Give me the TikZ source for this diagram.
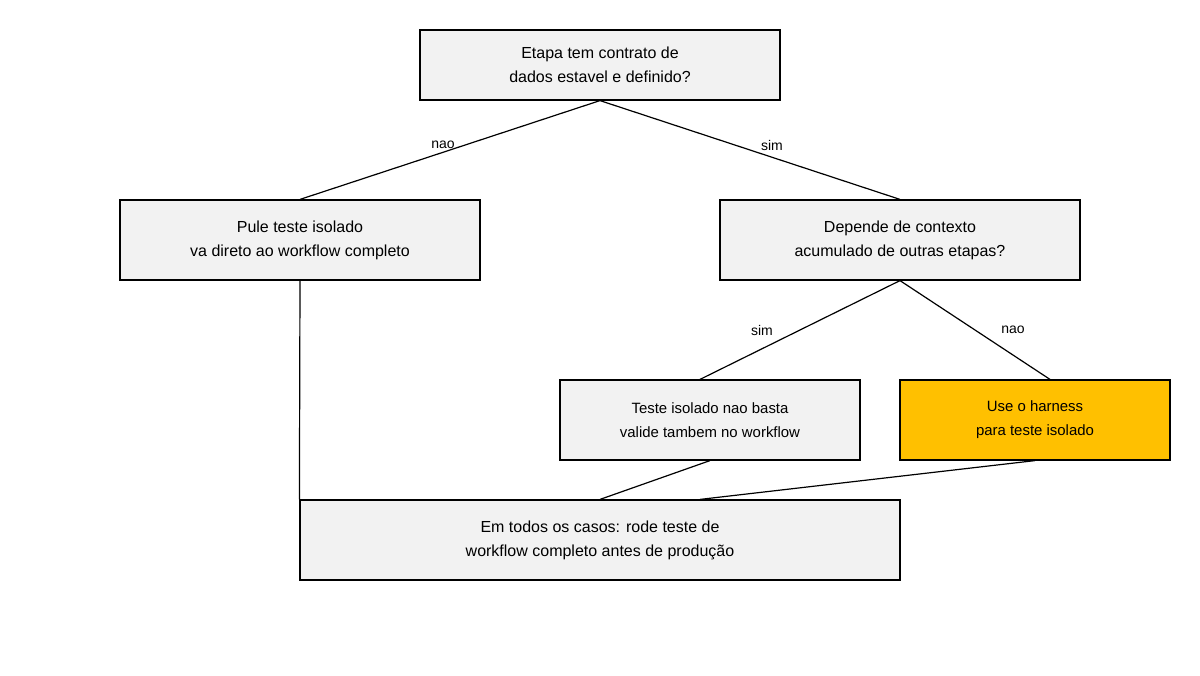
\documentclass[tikz,border=0pt]{standalone}
\usepackage{fontspec}
\setmainfont{Liberation Sans}
\definecolor{boxfill}{HTML}{F2F2F2}
\definecolor{hl}{HTML}{FFC000}
\begin{document}
\begin{tikzpicture}[x=0.75pt,y=-0.75pt,
  box/.style={draw=black,fill=boxfill,line width=0.9pt,minimum width=#1*0.75pt,minimum height=60pt,align=center,font=\fontsize{12}{18}\selectfont,inner sep=0pt},
  sbox/.style={box=#1,font=\fontsize{11.2}{18}\selectfont},
  lbl/.style={font=\fontsize{10.5}{12}\selectfont},
  conn/.style={line width=0.9pt}]
\useasboundingbox (0,0) rectangle (1200,675);
\fill[white] (0,0) rectangle (1200,675);
\node[box=360,minimum height=52.5pt] (A) at (600,65) {Etapa tem contrato de\\dados estavel e definido?};
\node[box=360] (B) at (300,240) {Pule teste isolado\\va direto ao workflow completo};
\node[box=360] (C) at (900,240) {Depende de contexto\\acumulado de outras etapas?};
\node[sbox=300] (D) at (710,420) {Teste isolado nao basta\\valide tambem no workflow};
\node[sbox=270,fill=hl] (E) at (1035,420) {Use o harness\\para teste isolado};
\node[box=600] (F) at (600,540) {Em todos os casos: rode teste de\\workflow completo antes de produção};
\draw[conn] (A.south) -- (B.north);
\draw[conn] (A.south) -- (C.north);
\draw[conn] (C.south) -- ([xshift=-7.5pt]D.north);
\draw[conn] (C.south) -- ([xshift=11.25pt]E.north);
\draw[conn] (B.south) -- (F.north west);
\draw[conn] (D.south) -- (F.north);
\draw[conn] (E.south) -- ([xshift=75pt]F.north);
\node[lbl] (l1) at (443,145) {nao};
\node[lbl] (l2) at (772,145) {sim};
\node[lbl] (l3) at (762,330) {sim};
\node[lbl] (l4) at (1013,330) {nao};
\end{tikzpicture}
\end{document}
